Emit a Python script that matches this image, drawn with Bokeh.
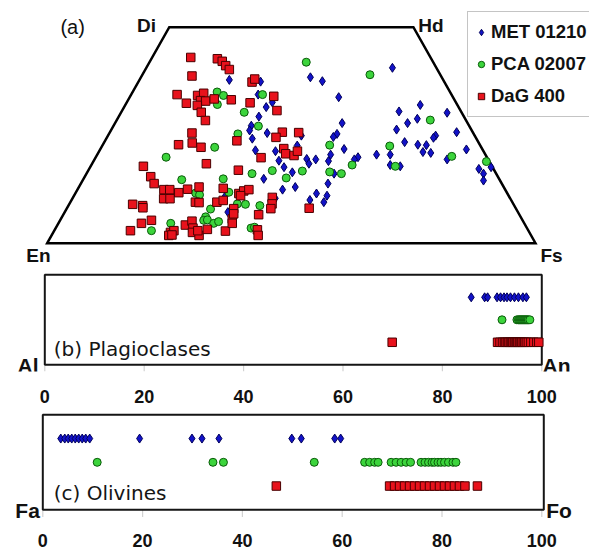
from bokeh.plotting import figure
from bokeh.models import Range1d, Label, Legend, LegendItem, FixedTicker
from bokeh.layouts import column
from bokeh.embed import file_html
from bokeh.resources import INLINE

# ---------------- data ----------------
series_names = ["MET 01210", "PCA 02007", "DaG 400"]

# (a) pyroxenes: Wo and Fs (mol %)
met_wo = [37.8, 37.4, 38.4, 37.5, 40.6, 34.4, 32.6, 31.5, 29.3, 27.2, 26.1, 24.2, 25.5, 24.9,
          21.5, 21.3, 22.6, 19.1, 17.6, 19.5, 19.4, 18.4, 16.4, 14.9, 12.4, 13.0, 10.4, 10.0,
          11.5, 9.5, 11.0, 19.0, 33.8, 30.5, 32.0, 30.2, 28.8, 27.8, 26.3, 25.7, 27.8, 25.3,
          24.6, 24.9, 24.4, 23.4, 22.8, 22.7, 21.8, 20.5, 21.1, 20.9, 21.7, 20.5, 20.5, 19.9,
          19.4, 19.4, 18.1, 17.8, 16.1, 17.6, 17.2, 16.1, 14.5, 13.8, 10.8, 7.2]
met_fs = [18.4, 25.0, 34.7, 37.6, 50.4, 26.0, 29.8, 29.1, 28.7, 28.2, 28.4, 29.9, 32.3, 39.6,
          31.9, 36.1, 39.9, 37.9, 39.7, 43.4, 45.3, 44.4, 42.0, 36.9, 42.0, 44.3, 41.5, 48.8,
          49.4, 51.9, 51.8, 48.1, 42.8, 56.8, 60.4, 66.8, 61.4, 59.9, 58.4, 71.0, 46.5, 46.7,
          46.3, 67.1, 66.9, 61.5, 64.5, 66.3, 49.9, 47.8, 66.4, 68.1, 75.0, 57.2, 60.0, 53.7,
          53.2, 72.2, 61.2, 63.4, 50.7, 82.1, 79.8, 81.3, 82.1, 50.6, 31.0, 33.4]

pca_wo = [35.0, 34.2, 32.1, 25.3, 22.2, 34.4, 41.9, 39.0, 30.3, 27.1, 22.7, 16.1, 16.8, 16.7,
          15.1, 9.1, 9.0, 8.7, 28.5, 22.5, 18.1, 20.1, 17.8, 16.5, 16.1, 18.9, 19.9, 14.7,
          14.9, 11.6, 11.2, 11.8, 7.9, 6.1, 5.3, 5.4, 4.6, 5.0, 4.6, 2.9, 3.5, 3.7]
pca_fs = [17.3, 19.0, 18.8, 26.4, 23.2, 26.9, 32.1, 46.6, 25.2, 29.7, 46.5, 33.9, 37.7, 43.9,
          41.4, 34.4, 36.1, 39.2, 64.2, 58.9, 53.4, 72.8, 62.4, 49.6, 52.2, 80.5, 14.4, 20.2,
          28.6, 24.6, 25.6, 31.3, 29.5, 29.4, 29.4, 30.1, 31.8, 32.6, 23.0, 19.9, 40.0, 40.6]

dag_wo = [43.0, 42.7, 42.1, 41.1, 40.2, 38.7, 37.3, 38.0, 34.4, 32.4, 34.2, 34.7, 33.0, 32.9,
          31.9, 30.3, 28.4, 33.4, 33.2, 32.5, 34.0, 30.7, 25.5, 23.2, 22.8, 22.2, 23.7, 25.7,
          25.6, 24.5, 21.9, 20.7, 20.3, 21.3, 19.8, 16.9, 18.4, 17.8, 15.4, 13.8, 12.4, 12.4,
          10.3, 10.3, 11.7, 12.5, 13.0, 9.5, 9.4, 9.0, 8.7, 8.2, 4.6, 5.3, 2.9, 2.5, 2.9, 1.8,
          1.9, 4.2, 5.1, 3.5, 2.5, 1.8, 2.9, 3.2, 2.8, 9.5, 9.9, 12.7, 5.6, 4.6, 8.0, 11.5,
          12.1, 12.4, 11.0, 10.6, 9.1, 8.0, 6.6, 6.8, 3.1, 1.8, 8.1]
dag_fs = [7.9, 13.5, 14.8, 16.0, 17.2, 10.3, 23.3, 23.5, 9.4, 12.3, 13.7, 14.7, 14.9, 16.0,
          14.8, 16.4, 18.2, 17.5, 21.1, 25.3, 29.4, 31.7, 16.9, 18.1, 15.5, 20.4, 27.0, 35.3,
          38.7, 34.6, 37.5, 38.5, 40.4, 40.6, 33.9, 30.7, 23.4, 10.8, 13.5, 15.0, 17.7, 18.9,
          18.7, 20.0, 21.1, 22.5, 24.6, 25.6, 26.4, 13.0, 15.2, 15.5, 17.0, 18.7, 15.6, 24.0,
          24.5, 24.0, 24.6, 26.2, 27.1, 28.1, 28.5, 30.2, 29.4, 31.2, 35.1, 30.0, 31.1, 29.7,
          35.1, 35.6, 34.2, 33.5, 34.2, 35.1, 34.1, 40.8, 41.5, 41.8, 40.0, 34.8, 41.5, 42.3, 49.6]

# quadrilateral corners: En, Di, Hd, Fs
quad_names = ["En", "Di", "Hd", "Fs"]
quad_wo = [0, 50, 50, 0]
quad_fs = [0, 0, 50, 100]

# (b) plagioclases: An (mol %)
plag_met = [85.8, 88.5, 89.1, 91.0, 91.7, 92.4, 93.0, 93.7, 94.5, 95.3, 96.2, 96.9]
plag_pca = [92.0, 95.0, 95.3, 95.5, 95.7, 95.9, 96.1, 96.3, 96.5, 96.7, 96.9, 97.1, 97.3, 97.6]
plag_dag = [69.9, 91.1, 91.6, 92.1, 92.5, 92.8, 93.1, 93.4, 93.7, 94.0, 94.2, 94.5, 94.7,
            95.0, 95.2, 95.5, 95.7, 96.0, 96.3, 96.6, 96.9, 97.3, 97.8, 98.4, 99.0, 99.4]

# (c) olivines: Fo (mol %)
ol_met = [3.6, 4.4, 5.1, 5.8, 6.5, 7.2, 7.9, 8.6, 9.4, 19.4, 29.9, 31.9, 35.3, 49.9, 51.8,
          58.5, 59.7]
ol_pca = [10.9, 34.1, 36.2, 54.4, 64.5, 65.5, 66.5, 67.2, 69.8, 70.8, 71.8, 72.8, 73.7,
          75.8, 76.6, 77.3, 78.0, 78.5, 79.2, 79.8, 80.5, 81.3, 82.2, 82.8]
ol_dag = [46.8, 69.5, 70.5, 71.5, 72.5, 73.5, 74.5, 75.5, 76.5, 77.5, 78.5, 79.5, 80.5,
          81.5, 82.5, 83.5, 84.6, 87.1]

series_rows = [3, 2, 1]          # strip rows for MET, PCA, DaG
tick_values = [0, 20, 40, 60, 80, 100]

# ---------------- styles ----------------
ARIAL = "Liberation Sans"
STYLES = [
    dict(marker="diamond", size=9, fill_color="#1212c8", line_color="#00005a", line_width=1),
    dict(marker="circle", size=8, fill_color="#3cd43c", line_color="#0a5a0a", line_width=1),
    dict(marker="square", size=8.5, fill_color="#e8121c", line_color="#4a0000", line_width=1),
]
W = 589


def tern_x(wo, fs):
    return [f + w / 2.0 for w, f in zip(wo, fs)]


# ---------------- (a) pyroxene quadrilateral ----------------
pa = figure(width=W, height=268, output_backend="svg", toolbar_location=None,
            x_axis_location=None, y_axis_location=None,
            x_range=Range1d(-9.564, 111.06), y_range=Range1d(-5.856, 56.18),
            min_border=0, min_border_left=0, min_border_right=0,
            min_border_top=0, min_border_bottom=0, outline_line_color=None)
pa.grid.visible = False
pa.patch(tern_x(quad_wo, quad_fs), quad_wo, fill_color=None, line_color="black",
         line_width=2.5, line_join="miter")

renderers = []
for wo, fs, st in zip([met_wo, pca_wo, dag_wo], [met_fs, pca_fs, dag_fs], STYLES):
    renderers.append(pa.scatter(tern_x(wo, fs), wo, **st))

legend = Legend(items=[LegendItem(label=n, renderers=[r]) for n, r in zip(series_names, renderers)],
                location=(467, 151), margin=0, padding=5, spacing=2,
                glyph_width=16, glyph_height=30, label_height=30, label_standoff=2,
                label_text_font=ARIAL, label_text_font_style="bold",
                label_text_font_size="18.5px", label_text_color="#111111",
                border_line_color="#8a8a8a", border_line_width=1.5,
                background_fill_color="white", background_fill_alpha=1.0)
pa.add_layout(legend)

vx = tern_x(quad_wo, quad_fs)
corner_labels = [
    dict(dx=0.7, y=-2.85, align="right"),    # En
    dict(dx=-2.7, y=50.32, align="right"),   # Di
    dict(dx=1.0, y=50.32, align="left"),     # Hd
    dict(dx=1.0, y=-2.85, align="left"),     # Fs
]
for name, xv, c in zip(quad_names, vx, corner_labels):
    pa.add_layout(Label(x=xv + c["dx"], y=c["y"], text=name, text_align=c["align"],
                        text_baseline="middle", text_font=ARIAL,
                        text_font_style="bold", text_font_size="19px", text_color="#111111"))
pa.add_layout(Label(x=2.7, y=50.16, text="(a)", text_align="left", text_baseline="middle",
                    text_font=ARIAL, text_font_size="20px", text_color="#111111"))


# ---------------- strip plots ----------------
def strip(height, bottom, xr, yr, box_right, data, title, lab_l, lab_r, standoff):
    p = figure(width=W, height=height, output_backend="svg", toolbar_location=None,
               y_axis_location=None, x_range=Range1d(*xr), y_range=Range1d(*yr),
               min_border_top=0, min_border_bottom=bottom,
               min_border_left=0, min_border_right=0, outline_line_color=None)
    p.grid.visible = False
    # faint tick marks below the box
    p.segment(x0=tick_values, y0=[0] * len(tick_values), x1=tick_values,
              y1=[-0.3] * len(tick_values), line_color="#d2d2d2", line_width=1.2)
    # panel box
    p.quad(left=[0], right=[box_right], bottom=[0], top=[4], fill_color=None,
           line_color="#151515", line_width=2)
    for vals, row, st in zip(data, series_rows, STYLES):
        p.scatter(vals, [row] * len(vals), **st)
    ax = p.xaxis[0]
    ax.ticker = FixedTicker(ticks=tick_values)
    ax.axis_line_color = None
    ax.major_tick_line_color = None
    ax.major_tick_out = 0
    ax.major_tick_in = 0
    ax.minor_tick_line_color = None
    ax.major_label_standoff = standoff
    ax.major_label_text_font = ARIAL
    ax.major_label_text_font_style = "bold"
    ax.major_label_text_font_size = "18px"
    ax.major_label_text_color = "#111111"
    p.add_layout(Label(x=title[1], y=title[2], text=title[0], text_align="left",
                       text_baseline="middle", text_font="DejaVu Sans",
                       text_font_size="20px", text_color="#151515"))
    p.add_layout(Label(x=lab_l[1], y=lab_l[2], text=lab_l[0], text_align="right",
                       text_baseline="middle", text_font=ARIAL, text_font_style="bold",
                       text_font_size="21px", text_color="#111111"))
    p.add_layout(Label(x=lab_r[1], y=lab_r[2], text=lab_r[0], text_align="left",
                       text_baseline="middle", text_font=ARIAL, text_font_style="bold",
                       text_font_size="21px", text_color="#111111"))
    return p


pb = strip(142, 39, (-8.913, 109.6), (-0.298, 4.28), 100,
           [plag_met, plag_pca, plag_dag],
           ("(b) Plagioclases", 1.8, 0.70), ("Al", -1.27, -0.01), ("An", 100.14, -0.05),
           standoff=18)
pc = strip(144, 36, (-8.477, 109.56), (-0.366, 4.181), 100.4,
           [ol_met, ol_pca, ol_dag],
           ("(c) Olivines", 2.2, 0.707), ("Fa", -0.6, -0.03), ("Fo", 100.88, -0.05),
           standoff=15)

layout = column(pa, pb, pc, spacing=0)
open("out.html", "w").write(file_html(layout, INLINE))
